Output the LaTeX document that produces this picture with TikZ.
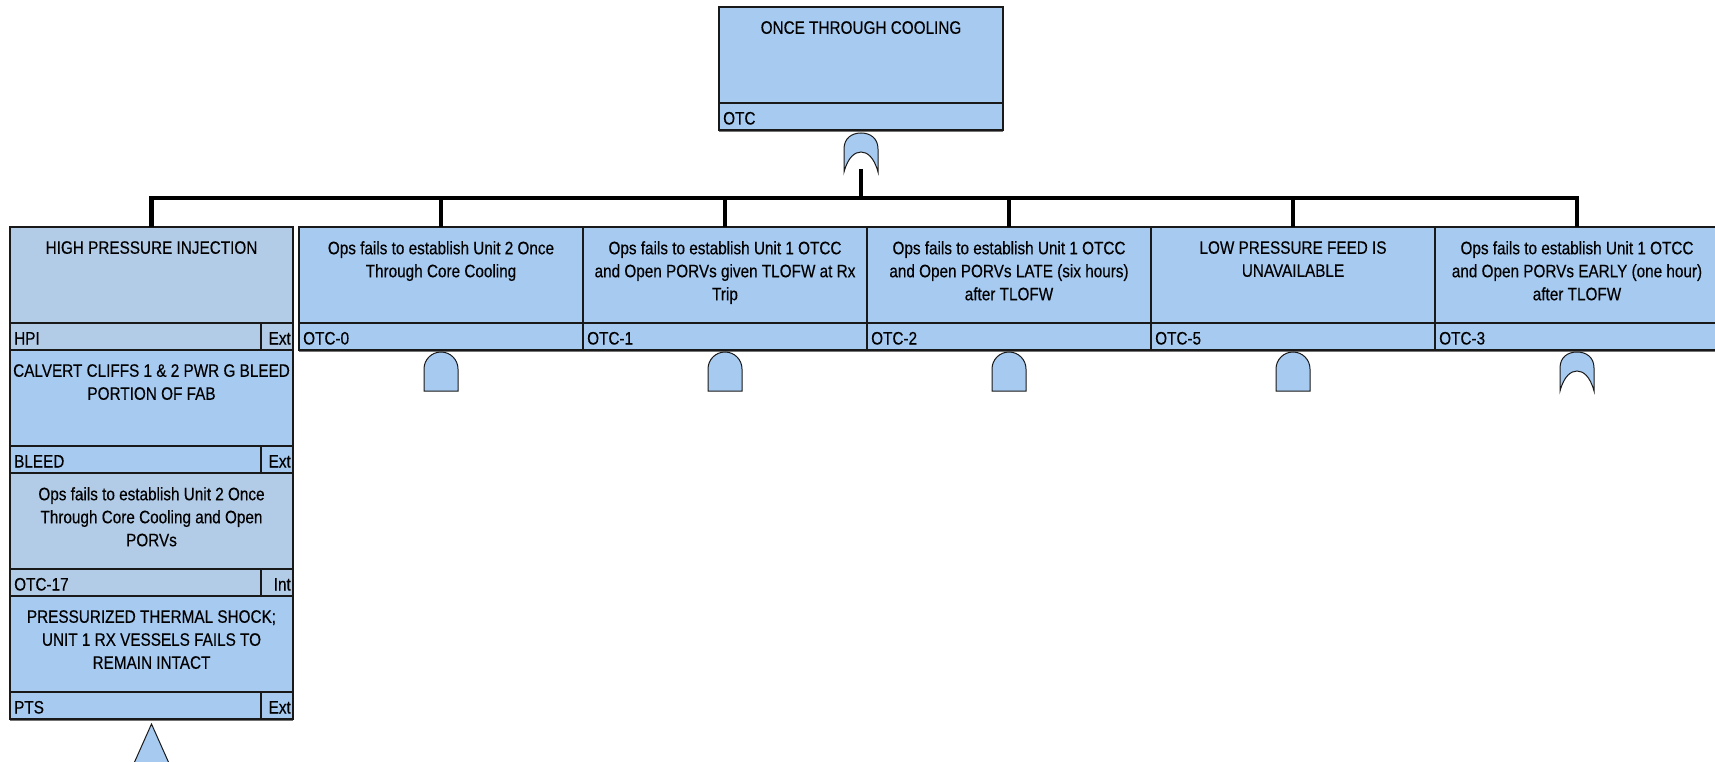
\documentclass[tikz,border=0pt]{standalone}
\usepackage{fontspec}
\setmainfont{Liberation Sans}[FakeStretch=0.85,FakeBold=0.3]
\definecolor{evblue}{RGB}{166,202,240}
\definecolor{evgrey}{RGB}{178,203,230}
\definecolor{edge}{RGB}{25,25,25}
\tikzset{
  desc/.style={draw=edge, line width=1.5pt, rectangle, minimum height=96, inner sep=0, outer sep=0},
  idbar/.style={draw=edge, line width=1.5pt, rectangle, minimum height=27, inner sep=0, outer sep=0},
  desctext/.style={font=\fontsize{18}{23}\selectfont, align=center, inner sep=0, anchor=north, text=black},
  idtext/.style={font=\fontsize{18}{21}\selectfont, inner sep=0, text=black},
  conn/.style={line width=4.5pt, draw=black},
  gate/.style={fill=evblue, draw=edge, line width=1pt},
  shadow/.style={draw=black!55, line width=1.5pt},
}
\newcommand\EvBox[7]{%
  \node[desc, fill=#4, minimum width=#3, anchor=north west] (#1) at #2 {};
  \node[desctext] (#1-t) at ([yshift=-14pt]#1.north) {#5};
  \node[idbar, fill=#4, minimum width=#3, anchor=north west] (#1-id) at (#1.south west) {};
  \draw[shadow] ([yshift=-1.5pt]#1-id.south west) -- ([yshift=-1.5pt]#1-id.south east);
  \node[idtext, anchor=base west] (#1-n) at ([xshift=4pt,yshift=5.5pt]#1-id.south west) {#6};
  \ifx\relax#7\relax\else
    \node[idbar, fill=#4, minimum width=32, anchor=north east] (#1-tag) at (#1-id.north east) {};
    \node[idtext, anchor=base east] (#1-tg) at ([xshift=-2pt,yshift=5.5pt]#1-tag.south east) {#7};
  \fi
}
\newcommand\AndGate[3]{%
  \path[gate] (#2-17,#3+39) -- (#2-17,#3+17)
    .. controls (#2-17,#3+7.6) and (#2-9.4,#3) .. (#2,#3)
    .. controls (#2+9.4,#3) and (#2+17,#3+7.6) .. (#2+17,#3+17)
    -- (#2+17,#3+39) -- cycle;
  \coordinate (#1) at (#2,#3);
  \coordinate (#1-out) at (#2,#3+36);
}
\newcommand\OrGate[3]{%
  \path[gate] (#2-17,#3+39) -- (#2-17,#3+16)
    .. controls (#2-17,#3+5) and (#2-9,#3) .. (#2,#3)
    .. controls (#2+9,#3) and (#2+17,#3+5) .. (#2+17,#3+16)
    -- (#2+17,#3+39)
    .. controls (#2+13,#3+24) and (#2+6,#3+19) .. (#2,#3+19)
    .. controls (#2-6,#3+19) and (#2-13,#3+24) .. (#2-17,#3+39) -- cycle;
  \coordinate (#1) at (#2,#3);
  \coordinate (#1-out) at (#2,#3+36);
}
\begin{document}
\begin{tikzpicture}[x=1pt,y=-1pt]
\useasboundingbox (0,0) rectangle (1715,762);
% top event
\EvBox{otc}{(719,7)}{284}{evblue}{ONCE THROUGH COOLING}{OTC}{}
\OrGate{gtop}{861}{133}
\coordinate (bar) at (861,198);
% row events
\EvBox{otc0}{(299,227)}{284}{evblue}{Ops fails to establish Unit 2 Once\\Through Core Cooling}{OTC-0}{}
\EvBox{otc1}{(583,227)}{284}{evblue}{Ops fails to establish Unit 1 OTCC\\and Open PORVs given TLOFW at Rx\\Trip}{OTC-1}{}
\EvBox{otc2}{(867,227)}{284}{evblue}{Ops fails to establish Unit 1 OTCC\\and Open PORVs LATE (six hours)\\after TLOFW}{OTC-2}{}
\EvBox{otc5}{(1151,227)}{284}{evblue}{LOW PRESSURE FEED IS\\UNAVAILABLE}{OTC-5}{}
\EvBox{otc3}{(1435,227)}{284}{evblue}{Ops fails to establish Unit 1 OTCC\\and Open PORVs EARLY (one hour)\\after TLOFW}{OTC-3}{}
% left column
\EvBox{hpi}{(10,227)}{283}{evgrey}{HIGH PRESSURE INJECTION}{HPI}{Ext}
\EvBox{bleed}{(10,350)}{283}{evblue}{CALVERT CLIFFS 1 \& 2 PWR G BLEED\\PORTION OF FAB}{BLEED}{Ext}
\EvBox{otc17}{(10,473)}{283}{evgrey}{Ops fails to establish Unit 2 Once\\Through Core Cooling and Open\\PORVs}{OTC-17}{Int}
\EvBox{pts}{(10,596)}{283}{evblue}{PRESSURIZED THERMAL SHOCK;\\UNIT 1 RX VESSELS FAILS TO\\REMAIN INTACT}{PTS}{Ext}
% gates under row events
\AndGate{g0}{441}{352}
\AndGate{g1}{725}{352}
\AndGate{g2}{1009}{352}
\AndGate{g5}{1293}{352}
\OrGate{g3}{1577}{352}
% transfer triangle
\path[gate] (151.5,724) -- (172,770) -- (131,770) -- cycle;
\coordinate (tr) at (151.5,724);
% connectors
\draw[conn] (gtop-out) -- (bar);
\foreach \c in {hpi,otc0,otc1,otc2,otc5,otc3}{
  \draw[conn] (bar) -| (\c.north);
}
\end{tikzpicture}
\end{document}
